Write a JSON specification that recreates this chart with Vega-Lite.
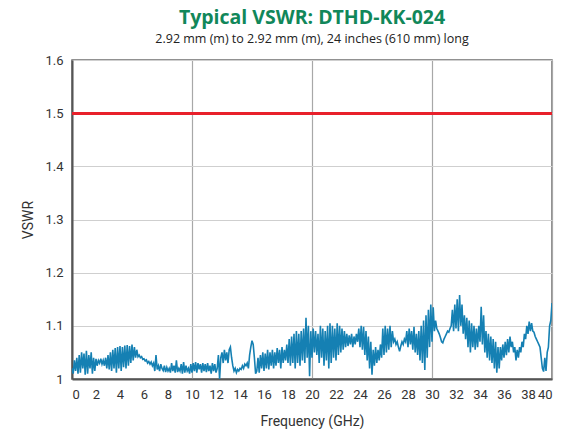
{
  "$schema": "https://vega.github.io/schema/vega-lite/v6.json",
  "autosize": "none",
  "width": 480,
  "height": 319,
  "padding": {"left": 72, "top": 60, "right": 20, "bottom": 50},
  "background": "white",
  "title": {
    "text": "Typical VSWR: DTHD-KK-024",
    "subtitle": "2.92 mm (m) to 2.92 mm (m), 24 inches (610 mm) long",
    "anchor": "middle",
    "frame": "group",
    "font": "Open Sans",
    "fontSize": 19.5,
    "fontWeight": "bold",
    "color": "#11875a",
    "subtitleFont": "Open Sans",
    "subtitleFontSize": 12.5,
    "subtitleColor": "#222222",
    "subtitlePadding": 4,
    "offset": 8
  },
  "config": {
    "view": {"stroke": "#6e6e6e", "strokeWidth": 1.5},
    "axis": {
      "labelFont": "Roboto",
      "labelFontSize": 13,
      "labelColor": "#333333",
      "titleFont": "Roboto",
      "titleFontSize": 14,
      "titleFontWeight": "normal",
      "titleColor": "#333333",
      "ticks": false,
      "domainColor": "#555555",
      "domainWidth": 2
    }
  },
  "data": {
    "values": [
      {"f":0.0,"v":1.02},{"f":0.1,"v":1.01},{"f":0.2,"v":1.035},{"f":0.3,"v":1.015},{"f":0.4,"v":1.04},{"f":0.5,"v":1.01},{"f":0.6,"v":1.045},{"f":0.7,"v":1.012},{"f":0.8,"v":1.05},{"f":0.9,"v":1.02},
      {"f":1.0,"v":1.048},{"f":1.1,"v":1.008},{"f":1.2,"v":1.053},{"f":1.3,"v":1.01},{"f":1.4,"v":1.045},{"f":1.5,"v":1.02},{"f":1.6,"v":1.05},{"f":1.7,"v":1.01},{"f":1.8,"v":1.04},{"f":1.9,"v":1.015},
      {"f":2.0,"v":1.038},{"f":2.1,"v":1.025},{"f":2.2,"v":1.035},{"f":2.3,"v":1.03},{"f":2.4,"v":1.038},{"f":2.5,"v":1.028},{"f":2.6,"v":1.035},{"f":2.7,"v":1.025},{"f":2.8,"v":1.04},{"f":2.9,"v":1.02},
      {"f":3.0,"v":1.045},{"f":3.1,"v":1.018},{"f":3.2,"v":1.05},{"f":3.3,"v":1.015},{"f":3.4,"v":1.055},{"f":3.5,"v":1.02},{"f":3.6,"v":1.058},{"f":3.7,"v":1.012},{"f":3.8,"v":1.06},{"f":3.9,"v":1.02},
      {"f":4.0,"v":1.062},{"f":4.1,"v":1.015},{"f":4.2,"v":1.06},{"f":4.3,"v":1.022},{"f":4.4,"v":1.063},{"f":4.5,"v":1.02},{"f":4.6,"v":1.064},{"f":4.7,"v":1.025},{"f":4.8,"v":1.062},{"f":4.9,"v":1.03},
      {"f":5.0,"v":1.065},{"f":5.1,"v":1.035},{"f":5.2,"v":1.06},{"f":5.3,"v":1.04},{"f":5.4,"v":1.055},{"f":5.5,"v":1.042},{"f":5.6,"v":1.045},{"f":5.7,"v":1.04},{"f":5.8,"v":1.042},{"f":5.9,"v":1.037},
      {"f":6.0,"v":1.038},{"f":6.1,"v":1.034},{"f":6.2,"v":1.036},{"f":6.3,"v":1.03},{"f":6.4,"v":1.033},{"f":6.5,"v":1.028},{"f":6.6,"v":1.032},{"f":6.7,"v":1.025},{"f":6.8,"v":1.03},{"f":6.9,"v":1.015},
      {"f":7.0,"v":1.045},{"f":7.1,"v":1.018},{"f":7.2,"v":1.025},{"f":7.3,"v":1.015},{"f":7.4,"v":1.028},{"f":7.5,"v":1.02},{"f":7.6,"v":1.016},{"f":7.7,"v":1.025},{"f":7.8,"v":1.013},{"f":7.9,"v":1.022},
      {"f":8.0,"v":1.015},{"f":8.1,"v":1.02},{"f":8.2,"v":1.012},{"f":8.3,"v":1.03},{"f":8.4,"v":1.015},{"f":8.5,"v":1.025},{"f":8.6,"v":1.012},{"f":8.7,"v":1.035},{"f":8.8,"v":1.013},{"f":8.9,"v":1.02},
      {"f":9.0,"v":1.015},{"f":9.1,"v":1.028},{"f":9.2,"v":1.01},{"f":9.3,"v":1.032},{"f":9.4,"v":1.012},{"f":9.5,"v":1.025},{"f":9.6,"v":1.015},{"f":9.7,"v":1.02},{"f":9.8,"v":1.01},{"f":9.9,"v":1.028},
      {"f":10.0,"v":1.012},{"f":10.1,"v":1.03},{"f":10.2,"v":1.015},{"f":10.3,"v":1.032},{"f":10.4,"v":1.012},{"f":10.5,"v":1.03},{"f":10.6,"v":1.018},{"f":10.7,"v":1.028},{"f":10.8,"v":1.012},{"f":10.9,"v":1.03},
      {"f":11.0,"v":1.015},{"f":11.1,"v":1.028},{"f":11.2,"v":1.013},{"f":11.3,"v":1.03},{"f":11.4,"v":1.015},{"f":11.5,"v":1.025},{"f":11.6,"v":1.01},{"f":11.7,"v":1.03},{"f":11.8,"v":1.015},{"f":11.9,"v":1.028},
      {"f":12.0,"v":1.012},{"f":12.1,"v":1.02},{"f":12.2,"v":1.045},{"f":12.3,"v":1.0},{"f":12.4,"v":1.04},{"f":12.5,"v":1.05},{"f":12.6,"v":1.03},{"f":12.7,"v":1.055},{"f":12.8,"v":1.035},{"f":12.9,"v":1.05},
      {"f":13.0,"v":1.03},{"f":13.1,"v":1.055},{"f":13.2,"v":1.06},{"f":13.3,"v":1.04},{"f":13.4,"v":1.025},{"f":13.5,"v":1.015},{"f":13.6,"v":1.02},{"f":13.7,"v":1.012},{"f":13.8,"v":1.018},{"f":13.9,"v":1.015},
      {"f":14.0,"v":1.02},{"f":14.1,"v":1.018},{"f":14.2,"v":1.025},{"f":14.3,"v":1.02},{"f":14.4,"v":1.028},{"f":14.5,"v":1.025},{"f":14.6,"v":1.03},{"f":14.7,"v":1.02},{"f":14.8,"v":1.045},{"f":14.9,"v":1.06},
      {"f":15.0,"v":1.072},{"f":15.1,"v":1.065},{"f":15.2,"v":1.04},{"f":15.3,"v":1.01},{"f":15.4,"v":1.015},{"f":15.5,"v":1.04},{"f":15.6,"v":1.012},{"f":15.7,"v":1.045},{"f":15.8,"v":1.02},{"f":15.9,"v":1.05},
      {"f":16.0,"v":1.015},{"f":16.1,"v":1.048},{"f":16.2,"v":1.02},{"f":16.3,"v":1.055},{"f":16.4,"v":1.018},{"f":16.5,"v":1.05},{"f":16.6,"v":1.025},{"f":16.7,"v":1.055},{"f":16.8,"v":1.02},{"f":16.9,"v":1.05},
      {"f":17.0,"v":1.025},{"f":17.1,"v":1.058},{"f":17.2,"v":1.03},{"f":17.3,"v":1.055},{"f":17.4,"v":1.02},{"f":17.5,"v":1.06},{"f":17.6,"v":1.03},{"f":17.7,"v":1.055},{"f":17.8,"v":1.035},{"f":17.9,"v":1.065},
      {"f":18.0,"v":1.03},{"f":18.1,"v":1.075},{"f":18.2,"v":1.025},{"f":18.3,"v":1.08},{"f":18.4,"v":1.03},{"f":18.5,"v":1.085},{"f":18.6,"v":1.02},{"f":18.7,"v":1.09},{"f":18.8,"v":1.03},{"f":18.9,"v":1.085},
      {"f":19.0,"v":1.025},{"f":19.1,"v":1.09},{"f":19.2,"v":1.035},{"f":19.3,"v":1.095},{"f":19.4,"v":1.03},{"f":19.5,"v":1.115},{"f":19.6,"v":1.04},{"f":19.7,"v":1.1},{"f":19.8,"v":1.005},{"f":19.9,"v":1.09},
      {"f":20.0,"v":1.04},{"f":20.1,"v":1.095},{"f":20.2,"v":1.05},{"f":20.3,"v":1.09},{"f":20.4,"v":1.045},{"f":20.5,"v":1.085},{"f":20.6,"v":1.03},{"f":20.7,"v":1.1},{"f":20.8,"v":1.04},{"f":20.9,"v":1.095},
      {"f":21.0,"v":1.025},{"f":21.1,"v":1.09},{"f":21.2,"v":1.035},{"f":21.3,"v":1.1},{"f":21.4,"v":1.02},{"f":21.5,"v":1.105},{"f":21.6,"v":1.03},{"f":21.7,"v":1.1},{"f":21.8,"v":1.04},{"f":21.9,"v":1.095},
      {"f":22.0,"v":1.035},{"f":22.1,"v":1.105},{"f":22.2,"v":1.045},{"f":22.3,"v":1.1},{"f":22.4,"v":1.05},{"f":22.5,"v":1.095},{"f":22.6,"v":1.055},{"f":22.7,"v":1.09},{"f":22.8,"v":1.06},{"f":22.9,"v":1.085},
      {"f":23.0,"v":1.062},{"f":23.1,"v":1.082},{"f":23.2,"v":1.065},{"f":23.3,"v":1.085},{"f":23.4,"v":1.06},{"f":23.5,"v":1.08},{"f":23.6,"v":1.065},{"f":23.7,"v":1.085},{"f":23.8,"v":1.07},{"f":23.9,"v":1.095},
      {"f":24.0,"v":1.06},{"f":24.1,"v":1.1},{"f":24.2,"v":1.055},{"f":24.3,"v":1.098},{"f":24.4,"v":1.045},{"f":24.5,"v":1.09},{"f":24.6,"v":1.035},{"f":24.7,"v":1.08},{"f":24.8,"v":1.02},{"f":24.9,"v":1.07},
      {"f":25.0,"v":1.008},{"f":25.1,"v":1.055},{"f":25.2,"v":1.025},{"f":25.3,"v":1.06},{"f":25.4,"v":1.03},{"f":25.5,"v":1.055},{"f":25.6,"v":1.035},{"f":25.7,"v":1.065},{"f":25.8,"v":1.04},{"f":25.9,"v":1.095},
      {"f":26.0,"v":1.045},{"f":26.1,"v":1.1},{"f":26.2,"v":1.05},{"f":26.3,"v":1.095},{"f":26.4,"v":1.055},{"f":26.5,"v":1.1},{"f":26.6,"v":1.06},{"f":26.7,"v":1.09},{"f":26.8,"v":1.07},{"f":26.9,"v":1.075},
      {"f":27.0,"v":1.065},{"f":27.1,"v":1.07},{"f":27.2,"v":1.06},{"f":27.3,"v":1.052},{"f":27.4,"v":1.062},{"f":27.5,"v":1.07},{"f":27.6,"v":1.065},{"f":27.7,"v":1.075},{"f":27.8,"v":1.07},{"f":27.9,"v":1.09},
      {"f":28.0,"v":1.06},{"f":28.1,"v":1.095},{"f":28.2,"v":1.065},{"f":28.3,"v":1.09},{"f":28.4,"v":1.055},{"f":28.5,"v":1.098},{"f":28.6,"v":1.05},{"f":28.7,"v":1.085},{"f":28.8,"v":1.045},{"f":28.9,"v":1.09},
      {"f":29.0,"v":1.035},{"f":29.1,"v":1.1},{"f":29.2,"v":1.03},{"f":29.3,"v":1.11},{"f":29.4,"v":1.017},{"f":29.5,"v":1.12},{"f":29.6,"v":1.04},{"f":29.7,"v":1.13},{"f":29.8,"v":1.06},{"f":29.9,"v":1.14},
      {"f":30.0,"v":1.07},{"f":30.1,"v":1.135},{"f":30.2,"v":1.09},{"f":30.3,"v":1.11},{"f":30.4,"v":1.095},{"f":30.5,"v":1.09},{"f":30.6,"v":1.085},{"f":30.7,"v":1.078},{"f":30.8,"v":1.07},{"f":30.9,"v":1.068},
      {"f":31.0,"v":1.075},{"f":31.1,"v":1.08},{"f":31.2,"v":1.085},{"f":31.3,"v":1.09},{"f":31.4,"v":1.088},{"f":31.5,"v":1.095},{"f":31.6,"v":1.1},{"f":31.7,"v":1.13},{"f":31.8,"v":1.09},{"f":31.9,"v":1.14},
      {"f":32.0,"v":1.095},{"f":32.1,"v":1.15},{"f":32.2,"v":1.09},{"f":32.3,"v":1.158},{"f":32.4,"v":1.1},{"f":32.5,"v":1.14},{"f":32.6,"v":1.085},{"f":32.7,"v":1.12},{"f":32.8,"v":1.075},{"f":32.9,"v":1.115},
      {"f":33.0,"v":1.06},{"f":33.1,"v":1.11},{"f":33.2,"v":1.05},{"f":33.3,"v":1.105},{"f":33.4,"v":1.06},{"f":33.5,"v":1.1},{"f":33.6,"v":1.055},{"f":33.7,"v":1.095},{"f":33.8,"v":1.06},{"f":33.9,"v":1.1},
      {"f":34.0,"v":1.07},{"f":34.1,"v":1.136},{"f":34.2,"v":1.065},{"f":34.3,"v":1.12},{"f":34.4,"v":1.05},{"f":34.5,"v":1.09},{"f":34.6,"v":1.04},{"f":34.7,"v":1.085},{"f":34.8,"v":1.035},{"f":34.9,"v":1.08},
      {"f":35.0,"v":1.03},{"f":35.1,"v":1.075},{"f":35.2,"v":1.02},{"f":35.3,"v":1.07},{"f":35.4,"v":1.012},{"f":35.5,"v":1.06},{"f":35.6,"v":1.02},{"f":35.7,"v":1.06},{"f":35.8,"v":1.035},{"f":35.9,"v":1.065},
      {"f":36.0,"v":1.04},{"f":36.1,"v":1.07},{"f":36.2,"v":1.045},{"f":36.3,"v":1.075},{"f":36.4,"v":1.05},{"f":36.5,"v":1.08},{"f":36.6,"v":1.06},{"f":36.7,"v":1.07},{"f":36.8,"v":1.05},{"f":36.9,"v":1.06},
      {"f":37.0,"v":1.035},{"f":37.1,"v":1.055},{"f":37.2,"v":1.04},{"f":37.3,"v":1.06},{"f":37.4,"v":1.05},{"f":37.5,"v":1.07},{"f":37.6,"v":1.06},{"f":37.7,"v":1.085},{"f":37.8,"v":1.075},{"f":37.9,"v":1.1},
      {"f":38.0,"v":1.085},{"f":38.1,"v":1.108},{"f":38.2,"v":1.09},{"f":38.3,"v":1.105},{"f":38.4,"v":1.09},{"f":38.5,"v":1.088},{"f":38.6,"v":1.08},{"f":38.7,"v":1.075},{"f":38.8,"v":1.07},{"f":38.9,"v":1.065},
      {"f":39.0,"v":1.06},{"f":39.1,"v":1.04},{"f":39.2,"v":1.02},{"f":39.3,"v":1.014},{"f":39.4,"v":1.04},{"f":39.5,"v":1.015},{"f":39.6,"v":1.05},{"f":39.7,"v":1.06},{"f":39.8,"v":1.1},{"f":39.9,"v":1.11},
      {"f":40.0,"v":1.143}
    ]
  },
  "layer": [
    {
      "mark": {"type": "line", "color": "#1580b3", "strokeWidth": 1.6, "clip": true},
      "encoding": {
        "x": {
          "field": "f", "type": "quantitative",
          "scale": {"domain": [0, 40], "nice": false},
          "axis": {
            "title": "Frequency (GHz)",
            "values": [0,2,4,6,8,10,12,14,16,18,20,22,24,26,28,30,32,34,36,38,40],
            "labelPadding": 9,
            "titlePadding": 13,
            "gridColor": {"condition": {"test": "datum.value % 10 === 0", "value": "#a8a8a8"}, "value": "transparent"},
            "gridWidth": 1.2
          }
        },
        "y": {
          "field": "v", "type": "quantitative",
          "scale": {"domain": [1, 1.6], "nice": false, "zero": false},
          "axis": {
            "title": "VSWR",
            "values": [1, 1.1, 1.2, 1.3, 1.4, 1.5, 1.6],
            "format": ".1~f",
            "labelPadding": 9,
            "titlePadding": 9,
            "gridColor": "#cfcfcf"
          }
        }
      }
    },
    {
      "mark": {"type": "rule", "color": "#e8202a", "strokeWidth": 2.5},
      "encoding": {"y": {"datum": 1.5}}
    }
  ]
}
